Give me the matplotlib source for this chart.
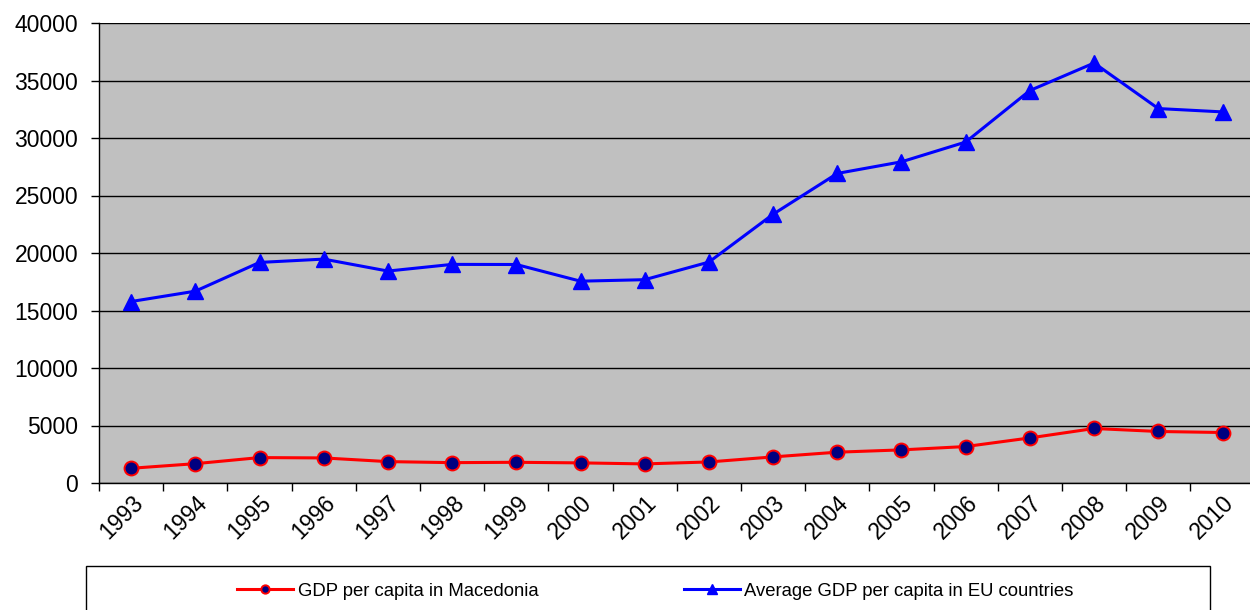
import matplotlib
matplotlib.use("Agg")
import matplotlib.pyplot as plt
from matplotlib.patches import Rectangle
from matplotlib.transforms import ScaledTranslation
import numpy as np

years = ["1993", "1994", "1995", "1996", "1997", "1998", "1999", "2000", "2001",
         "2002", "2003", "2004", "2005", "2006", "2007", "2008", "2009", "2010"]
macedonia = [1280, 1680, 2210, 2180, 1860, 1770, 1800, 1750, 1660,
             1830, 2270, 2680, 2880, 3170, 3920, 4740, 4480, 4390]
eu_avg = [15780, 16680, 19180, 19470, 18430, 19010, 19000, 17550, 17680,
          19210, 23370, 26920, 27930, 29650, 34130, 36520, 32560, 32270]
y_ticks = [0, 5000, 10000, 15000, 20000, 25000, 30000, 35000, 40000]
label_mk = "GDP per capita in Macedonia"
label_eu = "Average GDP per capita in EU countries"

plt.rcParams['font.family'] = ['Liberation Sans', 'DejaVu Sans']

fig = plt.figure(figsize=(12.5, 6.1), dpi=100)
W, H = 1250, 610
ax = fig.add_axes([99 / W, 1 - 483 / H, 1155.6 / W, (483 - 23) / H])
ax.set_facecolor('#C0C0C0')

x = np.arange(len(years))
l1, = ax.plot(x, macedonia, color='#FF0000', lw=2.2, marker='o', markersize=10,
              markerfacecolor='#000080', markeredgecolor='#FF0000', markeredgewidth=1.4,
              label=label_mk, zorder=3)
l2, = ax.plot(x, eu_avg, color='#0000FF', lw=2.2, marker='^', markersize=11,
              markerfacecolor='#0000FF', markeredgecolor='#0000FF',
              label=label_eu, zorder=3)

ax.set_xlim(-0.5, len(years) - 0.5)
ax.set_ylim(0, 40000)
ax.set_yticks(y_ticks)
ax.set_yticklabels([str(v) for v in y_ticks], fontsize=16.5)
ax.yaxis.grid(True, color='black', lw=1.0)
ax.set_axisbelow(True)

ax.set_xticks(x)
ax.set_xticklabels(years, fontsize=16.5, rotation=45, ha='right', va='top',
                   rotation_mode='anchor')
off = ScaledTranslation(10 / 100, 0, fig.dpi_scale_trans)
for lab in ax.get_xticklabels():
    lab.set_transform(lab.get_transform() + off)
ax.tick_params(axis='x', which='major', length=0, pad=6)
ax.set_xticks(np.arange(-0.5, len(years), 1.0), minor=True)
ax.tick_params(axis='x', which='minor', length=6, width=1, color='black', direction='out')
ax.tick_params(axis='y', length=6, width=1, color='black', direction='out', pad=9)

for s in ['top', 'right']:
    ax.spines[s].set_visible(False)
ax.spines['left'].set_color('black')
ax.spines['bottom'].set_color('black')
ax.spines['left'].set_linewidth(1.0)
ax.spines['bottom'].set_linewidth(1.0)

# legend box
rect = Rectangle((86 / W, -0.05), (1210 - 86) / W, 0.05 + (610 - 566) / H,
                 transform=fig.transFigure, facecolor='white', edgecolor='black',
                 lw=1.0, zorder=1)
fig.patches.append(rect)
fig.legend(handles=[l1, l2], loc='center', bbox_to_anchor=(655.5 / W, 1 - 591 / H),
           ncol=2, frameon=False, fontsize=13.3, handlelength=3.0, handletextpad=0.25,
           columnspacing=7.9, markerscale=0.6)

fig.savefig('out.png', dpi=100)
